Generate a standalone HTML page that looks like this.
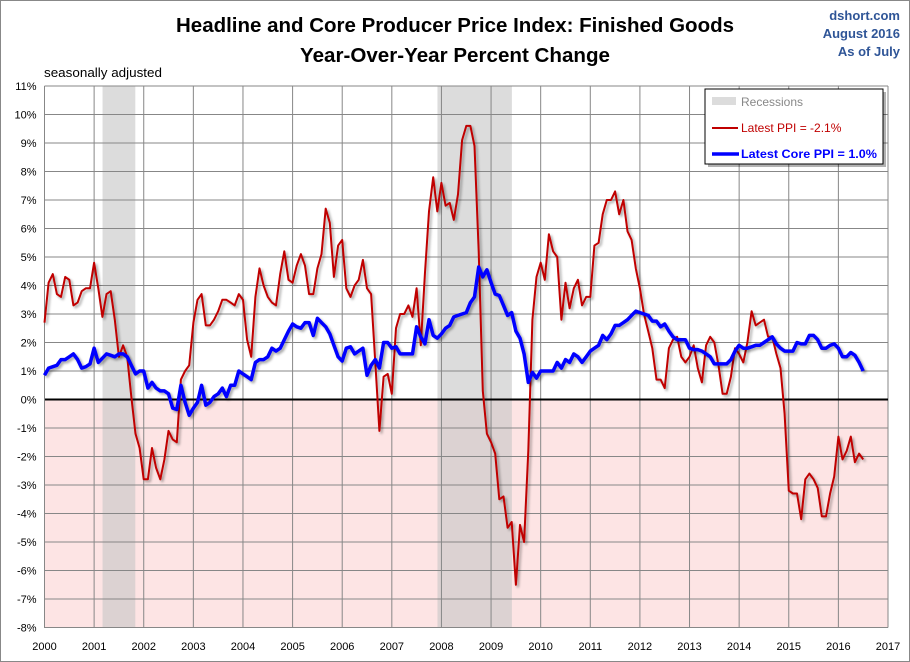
<!DOCTYPE html>
<html><head><meta charset="utf-8"><style>
html,body{margin:0;padding:0;background:#fff;}
svg{display:block;font-family:"Liberation Sans",sans-serif;}
</style></head><body>
<svg id="chart" width="910" height="662" viewBox="0 0 910 662">
<defs>
<filter id="sh" x="-5%" y="-5%" width="110%" height="110%"><feDropShadow dx="2" dy="2" stdDeviation="1.2" flood-color="#000" flood-opacity="0.35"/></filter>
</defs>
<rect x="0.5" y="0.5" width="909" height="661" fill="#fff" stroke="#888"/>
<g id="plot"></g>
<text x="455" y="32" text-anchor="middle" font-size="20" font-weight="bold" textLength="558" lengthAdjust="spacingAndGlyphs">Headline and Core Producer Price Index: Finished Goods</text>
<text x="455" y="62" text-anchor="middle" font-size="20" font-weight="bold" textLength="310" lengthAdjust="spacingAndGlyphs">Year-Over-Year Percent Change</text>
<text x="900" y="20" text-anchor="end" font-size="13" font-weight="bold" fill="#2f5597">dshort.com</text>
<text x="900" y="38" text-anchor="end" font-size="13" font-weight="bold" fill="#2f5597">August 2016</text>
<text x="900" y="56" text-anchor="end" font-size="13" font-weight="bold" fill="#2f5597">As of July</text>
<text x="44" y="77" font-size="13" textLength="118" lengthAdjust="spacingAndGlyphs">seasonally adjusted</text>
<g>
<rect x="708" y="92" width="178" height="75" fill="#000" opacity="0.3"/>
<rect x="705" y="89" width="178" height="75" fill="#fff" stroke="#000" stroke-width="1"/>
<rect x="712" y="97" width="24" height="8" fill="#dcdcdc"/>
<text x="741" y="106" font-size="12" fill="#888">Recessions</text>
<line x1="712" y1="128" x2="738" y2="128" stroke="#c00000" stroke-width="2"/>
<text x="741" y="132" font-size="12" fill="#c00000">Latest PPI = -2.1%</text>
<line x1="712" y1="154" x2="739" y2="154" stroke="#0000ff" stroke-width="3.5"/>
<text x="741" y="158" font-size="12" font-weight="bold" fill="#0000ff" textLength="136" lengthAdjust="spacingAndGlyphs">Latest Core PPI = 1.0%</text>
</g>
</svg>
<script>
const headlinePPI = [
2.7,4.1,4.4,3.7,3.6,4.3,4.2,3.3,3.4,3.8,3.9,3.9,
4.8,3.9,2.9,3.7,3.8,2.8,1.5,1.9,1.5,0.1,-1.2,-1.7,
-2.8,-2.8,-1.7,-2.4,-2.8,-2.1,-1.1,-1.4,-1.5,0.7,1.0,1.2,
2.7,3.5,3.7,2.6,2.6,2.8,3.1,3.5,3.5,3.4,3.3,3.7,
3.5,2.1,1.5,3.6,4.6,4.0,3.6,3.4,3.3,4.4,5.2,4.2,
4.1,4.7,5.1,4.7,3.7,3.7,4.6,5.1,6.7,6.2,4.3,5.4,
5.6,3.9,3.6,4.0,4.2,4.9,3.9,3.7,1.3,-1.1,0.8,0.9,
0.2,2.5,3.0,3.0,3.3,2.9,3.9,1.9,4.4,6.6,7.8,6.6,
7.6,6.8,6.9,6.3,7.2,9.1,9.6,9.6,8.9,5.2,0.3,-1.2,
-1.5,-1.9,-3.5,-3.4,-4.5,-4.3,-6.5,-4.4,-5.0,-1.8,2.8,4.3,
4.8,4.2,5.8,5.2,5.0,2.8,4.1,3.2,3.9,4.2,3.3,3.6,
3.6,5.4,5.5,6.5,7.0,7.0,7.3,6.5,7.0,5.9,5.6,4.6,
3.9,3.0,2.4,1.8,0.7,0.7,0.4,1.8,2.1,2.2,1.5,1.3,
1.5,1.9,1.1,0.6,1.9,2.2,2.0,1.2,0.2,0.2,0.8,1.8,
1.6,1.3,2.0,3.1,2.6,2.7,2.8,2.2,2.2,1.6,1.1,-0.5,
-3.2,-3.3,-3.3,-4.2,-2.8,-2.6,-2.8,-3.1,-4.1,-4.1,-3.3,-2.7,
-1.3,-2.1,-1.8,-1.3,-2.2,-1.9,-2.1];
const corePPI = [
0.85,1.1,1.15,1.2,1.4,1.4,1.5,1.6,1.4,1.1,1.15,1.25,
1.8,1.3,1.45,1.6,1.55,1.5,1.6,1.6,1.5,1.2,0.9,1.0,
1.0,0.4,0.6,0.4,0.3,0.3,0.2,-0.3,-0.35,0.5,-0.1,-0.55,
-0.3,-0.1,0.5,-0.2,-0.1,0.1,0.2,0.4,0.1,0.5,0.5,1.0,
0.9,0.8,0.7,1.3,1.4,1.4,1.5,1.8,1.7,1.8,2.1,2.4,
2.65,2.55,2.5,2.7,2.7,2.25,2.85,2.7,2.55,2.3,1.9,1.5,
1.35,1.8,1.85,1.6,1.7,1.8,0.85,1.2,1.4,1.1,2.0,2.0,
1.8,1.85,1.6,1.6,1.6,1.6,2.55,2.2,1.95,2.8,2.25,2.15,
2.3,2.5,2.6,2.9,2.95,3.0,3.05,3.4,3.6,4.65,4.3,4.55,
4.1,3.7,3.65,3.3,2.95,3.05,2.4,2.15,1.6,0.6,0.95,0.75,
1.0,1.0,1.0,1.0,1.3,1.1,1.4,1.3,1.6,1.5,1.3,1.5,
1.7,1.8,1.9,2.25,2.1,2.3,2.6,2.6,2.7,2.8,2.95,3.1,
3.05,3.0,2.95,2.75,2.75,2.55,2.65,2.4,2.2,2.1,2.1,2.1,
1.8,1.75,1.75,1.7,1.6,1.5,1.25,1.25,1.25,1.25,1.4,1.7,
1.9,1.8,1.8,1.85,1.9,1.9,2.0,2.1,2.2,1.95,1.8,1.7,
1.7,1.7,2.0,1.95,1.95,2.25,2.25,2.1,1.8,1.8,1.9,1.95,
1.8,1.5,1.5,1.65,1.55,1.3,1.0];
const startYear = 2000;
const yearTicks = [2000,2001,2002,2003,2004,2005,2006,2007,2008,2009,2010,2011,2012,2013,2014,2015,2016,2017];
const pctTicks = [11,10,9,8,7,6,5,4,3,2,1,0,-1,-2,-3,-4,-5,-6,-7,-8];
const recessions = [[2001.17,2001.83],[2007.92,2009.42]];

const X0=44.5, X1=888, Y0=86, Y1=627.5, YMIN=-8, YMAX=11;
const xs = t => X0 + (t-2000)/(2017-2000)*(X1-X0);
const ys = v => Y1 - (v-YMIN)/(YMAX-YMIN)*(Y1-Y0);
const NS="http://www.w3.org/2000/svg";
const plot=document.getElementById('plot');
function mk(tag,attrs,parent){const e=document.createElementNS(NS,tag);for(const k in attrs)e.setAttribute(k,attrs[k]);(parent||plot).appendChild(e);return e;}

let bg=mk('rect',{x:X0,y:Y0,width:X1-X0,height:Y1-Y0,fill:'#fff'});


let neg=mk('rect',{x:X0,y:ys(0),width:X1-X0,height:Y1-ys(0),fill:'#fde4e4'});


recessions.forEach(r=>{
  let a=mk('rect',{x:xs(r[0]),y:Y0,width:xs(r[1])-xs(r[0]),height:ys(0)-Y0,fill:'#dcdcdc'});
  
  
  let b=mk('rect',{x:xs(r[0]),y:ys(0),width:xs(r[1])-xs(r[0]),height:Y1-ys(0),fill:'#dcd2d2'});
  
  
});
pctTicks.forEach(v=>{
  let l=mk('line',{x1:X0,x2:X1,y1:ys(v),y2:ys(v),stroke:'#878787','stroke-width':1});
  
  
  let t=mk('text',{x:X0-8,y:ys(v)+4,'text-anchor':'end','font-size':11});
  t.textContent=v+'%';
  
  
});
yearTicks.forEach(y=>{
  let l=mk('line',{x1:xs(y),x2:xs(y),y1:Y0,y2:Y1,stroke:'#878787','stroke-width':1});
  
  
  let t=mk('text',{x:xs(y),y:650,'text-anchor':'middle','font-size':11});
  t.textContent=y;
  
  
});
let zl=mk('line',{x1:X0,x2:X1,y1:ys(0),y2:ys(0),stroke:'#000','stroke-width':2});


let ax=mk('path',{d:`M${X0},${Y0}V${Y1}H${X1}`,fill:'none',stroke:'#878787','stroke-width':1});


function pts(arr){return arr.map((v,i)=>xs(startYear+i/12).toFixed(1)+','+ys(v).toFixed(1)).join(' ');}
let red=mk('polyline',{points:pts(headlinePPI),fill:'none',stroke:'#c00000','stroke-width':2,'stroke-linejoin':'round',filter:'url(#sh)'});


let blue=mk('polyline',{points:pts(corePPI),fill:'none',stroke:'#0000ff','stroke-width':3.5,'stroke-linejoin':'round',filter:'url(#sh)'});


</script>
</body></html>
